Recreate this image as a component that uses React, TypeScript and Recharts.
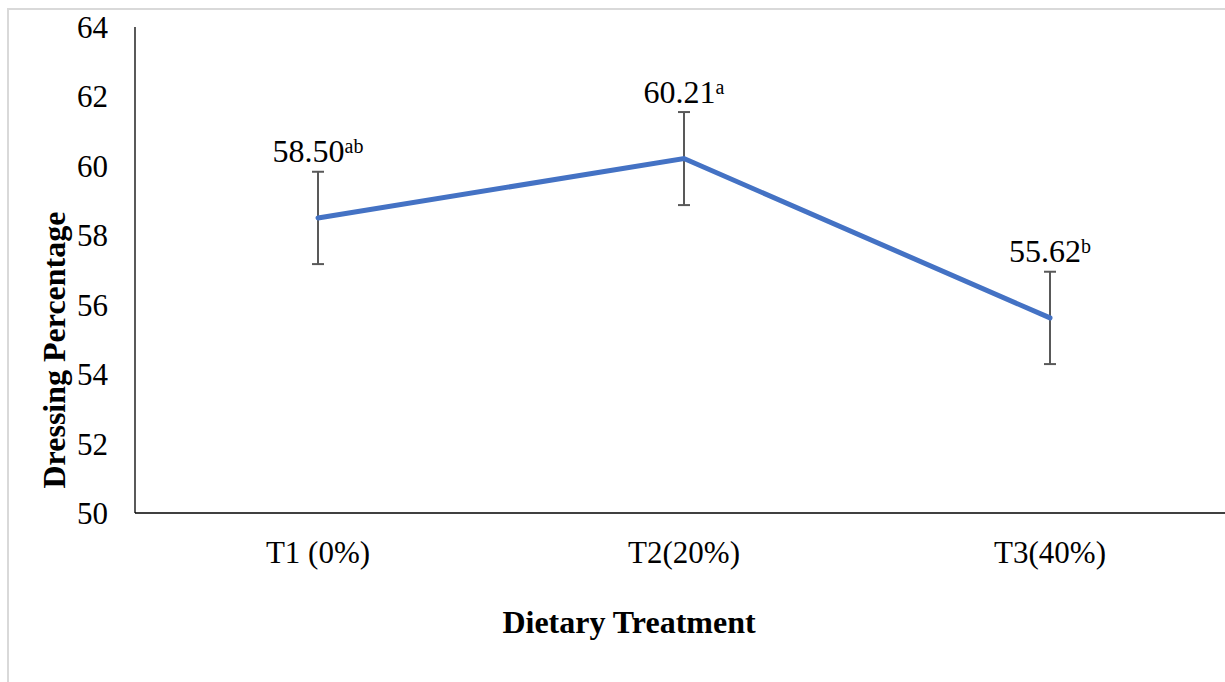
import { CartesianGrid, ErrorBar, LabelList, Line, LineChart, XAxis, YAxis } from "recharts";

const treatments = ["T1 (0%)", "T2(20%)", "T3(40%)"];
const dressing = [58.5, 60.21, 55.62];
const stdError = [1.33, 1.34, 1.33];
const letters = ["ab", "a", "b"];
const yTicks = [50, 52, 54, 56, 58, 60, 62, 64];

const data = treatments.map((name, i) => ({
  name,
  value: dressing[i],
  err: stdError[i],
}));

const FONT = '"Liberation Serif", "Times New Roman", serif';

const PointLabel = (props: any) => {
  const { x, y, index } = props;
  return (
    <text x={x} y={y - 56} textAnchor="middle" fontFamily={FONT} fill="#000">
      <tspan fontSize={32}>{dressing[index].toFixed(2)}</tspan>
      <tspan fontSize={20} dy={-9}>{letters[index]}</tspan>
    </text>
  );
};

export default function App() {
  return (
    <div style={{ position: "absolute", left: 0, top: 0, width: 1225, height: 682, overflow: "hidden", background: "#fff" }}>
      <div
        style={{
          position: "absolute",
          left: 7,
          top: 8,
          width: 1240,
          height: 700,
          borderLeft: "2px solid #d9d9d9",
          borderTop: "2px solid #d9d9d9",
        }}
      />
      <div style={{ position: "absolute", left: 0, top: 0 }}>
        <LineChart width={1240} height={682} data={data} margin={{ top: 27, right: 7, left: 0, bottom: 109 }}>
          <CartesianGrid horizontal={false} vertical={false} />
          <XAxis
            dataKey="name"
            height={60}
            padding={{ left: 183, right: 183 }}
            axisLine={{ stroke: "#000", strokeWidth: 1.3 }}
            tickLine={false}
            tickSize={0}
            tickMargin={28}
            tick={{ fill: "#000", fontSize: 31, fontFamily: FONT }}
          />
          <YAxis
            width={135}
            domain={[50, 64]}
            ticks={yTicks}
            interval={0}
            axisLine={{ stroke: "#000", strokeWidth: 1.3 }}
            tickLine={false}
            tickSize={0}
            tickMargin={27}
            tick={{ fill: "#000", fontSize: 31, fontFamily: FONT }}
          />
          <Line
            type="linear"
            dataKey="value"
            stroke="#4472C4"
            strokeWidth={5}
            strokeLinecap="round"
            dot={false}
            activeDot={false}
            isAnimationActive={false}
          >
            <ErrorBar dataKey="err" direction="y" width={6} stroke="#595959" strokeWidth={2} isAnimationActive={false} />
            <LabelList dataKey="value" content={PointLabel} />
          </Line>
          <text x={65} y={350} transform="rotate(-90, 65, 350)" textAnchor="middle" fontFamily={FONT} fontSize={32} fontWeight="bold" fill="#000">
            Dressing Percentage
          </text>
          <text x={629} y={633} textAnchor="middle" fontFamily={FONT} fontSize={32} fontWeight="bold" fill="#000">
            Dietary Treatment
          </text>
        </LineChart>
      </div>
    </div>
  );
}
